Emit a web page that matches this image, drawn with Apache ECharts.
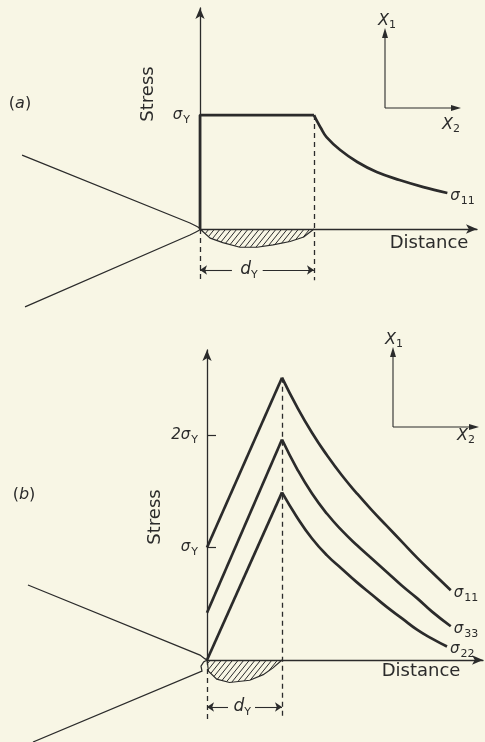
<!DOCTYPE html>
<html>
<head>
<meta charset="utf-8">
<script src="https://cdn.jsdelivr.net/npm/echarts@6/dist/echarts.min.js"></script>
<style>
  html, body { margin: 0; padding: 0; background: #f8f6e5; }
  #chart { width: 485px; height: 742px; }
</style>
</head>
<body>
<div id="chart"></div>
<script>
// Distances are in units of d_Y (plastic zone size), stresses in units of sigma_Y.

// ---- Panel (a): stress ahead of the crack tip ----
const sigma11A_plateau = [[0, 0], [0, 1], [1, 1]];
const sigma11A_decay = [[1, 1], [1.03, 0.94], [1.06, 0.886], [1.11, 0.807], [1.23, 0.693],
                        [1.38, 0.588], [1.55, 0.50], [1.75, 0.43], [1.96, 0.368], [2.17, 0.316]];
const plasticZoneA = [[0, 0], [0.09, -0.08], [0.2, -0.12], [0.35, -0.16], [0.5, -0.16],
                      [0.64, -0.14], [0.79, -0.11], [0.91, -0.07], [1, 0]];
const crackA = [[-1.561, 0.649], [-0.088, 0.053], [-0.035, 0.026], [-0.008, 0.012], [0, 0],
                [-0.008, -0.012], [-0.035, -0.026], [-0.088, -0.053], [-1.535, -0.684]];
const stressTicksA = [1];
const stressTickLabelsA = ['σ_Y'];

// ---- Panel (b): three stress components ahead of the crack tip ----
const riseX = [0, 1];
const decayX = [1, 1.2, 1.4, 1.6, 1.8, 2.0, 2.2, 2.4, 2.6, 2.8, 3.0, 3.25];
const decayX22 = [1, 1.2, 1.4, 1.6, 1.8, 2.0, 2.2, 2.4, 2.6, 2.8, 3.0, 3.2];
const sigma11B_rise = [1.0, 2.51];
const sigma11B_decay = [2.51, 2.25, 2.02, 1.82, 1.64, 1.48, 1.33, 1.19, 1.05, 0.91, 0.78, 0.62];
const sigma33B_rise = [0.42, 1.96];
const sigma33B_decay = [1.96, 1.70, 1.48, 1.30, 1.15, 1.02, 0.90, 0.78, 0.66, 0.55, 0.43, 0.30];
const sigma22B_rise = [0, 1.49];
const sigma22B_decay = [1.49, 1.27, 1.08, 0.93, 0.81, 0.69, 0.58, 0.47, 0.37, 0.27, 0.19, 0.12];
const plasticZoneB = [[0, 0], [0.02, -0.1], [0.13, -0.17], [0.3, -0.2], [0.57, -0.18],
                      [0.75, -0.13], [0.88, -0.07], [1, 0]];
const crackB = [[-2.387, 0.667], [-0.093, 0.044], [-0.03, 0.012], [0, 0], [-0.045, -0.018],
                [-0.08, -0.055], [-0.067, -0.098], [-2.32, -0.729]];
const stressTicksB = [1, 2];
const stressTickLabelsB = ['σ_Y', '2σ_Y'];

const ink = '#2b2b2b';
const font = 'DejaVu Sans';
const zip = (xs, ys) => xs.map((x, i) => [x, ys[i]]);

const subRich = {
  g: { fontSize: 15, fontFamily: font, color: ink, fontStyle: 'italic' },
  s: { fontSize: 11, fontFamily: font, color: ink, padding: [10, 0, 0, 1] }
};
const toRich = s => { const [a, b] = s.split('_'); return '{g|' + a + '}{s|' + b + '}'; };

function axisLineStyle() {
  return { show: true, onZero: false, symbol: ['none', 'arrow'], symbolSize: [7, 11],
           lineStyle: { color: ink, width: 1.3 } };
}

function curve(data, xi, opts) {
  return Object.assign({
    type: 'line', xAxisIndex: xi, yAxisIndex: xi, data, clip: false, showSymbol: false,
    symbol: 'none', silent: true, lineStyle: { color: ink, width: 2.7 }
  }, opts || {});
}

function crack(points, xi) {
  return {
    type: 'lines', coordinateSystem: 'cartesian2d', xAxisIndex: xi, yAxisIndex: xi, clip: false,
    polyline: true, silent: true, symbol: 'none',
    lineStyle: { color: ink, width: 1.25, opacity: 1, curveness: 0 },
    data: [{ coords: points }]
  };
}

function endTag(text) {
  return { show: true, formatter: toRich(text), rich: subRich, distance: 3, offset: [0, 3] };
}

function hatch(profile, xi) {
  return {
    type: 'custom', xAxisIndex: xi, yAxisIndex: xi, clip: false, silent: true,
    data: [[0, 0]],
    renderItem(params, api) {
      const pts = profile.map(p => api.coord(p));
      const y0 = api.coord([0, 0])[1];
      const t = 1.25, gap = 5.6;
      const f = p => p[0] * t + p[1];
      const children = [{ type: 'polyline', shape: { points: pts },
                          style: { stroke: ink, fill: null, lineWidth: 1.2 } }];
      const cStart = f(pts[0]), cEnd = f(pts[pts.length - 1]);
      for (let c = cStart + gap * t * 0.6; c < cEnd - 1; c += gap * t) {
        for (let i = 0; i < pts.length - 1; i++) {
          const a = f(pts[i]), b = f(pts[i + 1]);
          if (c >= a && c <= b) {
            const u = (c - a) / (b - a);
            const bx = pts[i][0] + u * (pts[i + 1][0] - pts[i][0]);
            const by = pts[i][1] + u * (pts[i + 1][1] - pts[i][1]);
            children.push({ type: 'line', shape: { x1: bx, y1: by, x2: (c - y0) / t, y2: y0 },
                            style: { stroke: ink, lineWidth: 1 } });
            break;
          }
        }
      }
      return { type: 'group', children };
    }
  };
}

function dashed(segments, xi) {
  return {
    type: 'lines', coordinateSystem: 'cartesian2d', xAxisIndex: xi, yAxisIndex: xi, clip: false,
    silent: true, symbol: 'none', lineStyle: { color: ink, width: 1.3, type: [5, 4], opacity: 1 },
    data: segments.map(s => ({ coords: s }))
  };
}

function dimension(y, leftEnd, rightStart, labelX, xi) {
  return [{
    type: 'lines', coordinateSystem: 'cartesian2d', xAxisIndex: xi, yAxisIndex: xi, clip: false,
    silent: true, symbol: ['none', 'arrow'], symbolSize: 7,
    lineStyle: { color: ink, width: 1.1, opacity: 1 },
    data: [{ coords: [[leftEnd, y], [0, y]] }, { coords: [[rightStart, y], [1, y]] }]
  }, {
    // the d_Y caption between the two arrows
    type: 'custom', xAxisIndex: xi, yAxisIndex: xi, clip: false, silent: true,
    data: [[labelX, y]],
    renderItem(params, api) {
      const p = api.coord([api.value(0), api.value(1)]);
      return { type: 'text', x: p[0], y: p[1], style: {
        text: '{g|d}{s|Y}', align: 'center', verticalAlign: 'middle',
        rich: { g: { fontSize: 17, fontFamily: font, fill: ink, fontStyle: 'italic' },
                s: { fontSize: 11, fontFamily: font, fill: ink, padding: [10, 0, 0, 0] } } } };
    }
  }];
}

function frame(ox, oy, top, right, x1Left, x1Y, x2Left, x2Y) {
  const ln = { stroke: ink, lineWidth: 1.1 };
  const lab = sub => ({ text: '{g|X}{s|' + sub + '}', verticalAlign: 'middle',
    rich: { g: { fontSize: 16, fontFamily: font, fill: ink, fontStyle: 'italic' },
            s: { fontSize: 11, fontFamily: font, fill: ink, padding: [8, 0, 0, 0] } } });
  return [
    { type: 'line', shape: { x1: ox, y1: oy, x2: ox, y2: top + 6 }, style: ln },
    { type: 'polygon', shape: { points: [[ox, top], [ox - 3, top + 10], [ox + 3, top + 10]] }, style: { fill: ink } },
    { type: 'line', shape: { x1: ox, y1: oy, x2: right - 6, y2: oy }, style: ln },
    { type: 'polygon', shape: { points: [[right, oy], [right - 10, oy - 3], [right - 10, oy + 3]] }, style: { fill: ink } },
    { type: 'text', x: x1Left, y: x1Y, style: lab('1') },
    { type: 'text', x: x2Left, y: x2Y, style: lab('2') }
  ];
}

function plainText(text, x, y, rotation) {
  return { type: 'text', x, y, rotation: rotation || 0,
    style: { text, fill: ink, font: '18px "' + font + '"', align: 'center', verticalAlign: 'middle' } };
}

function panelTag(letter, x, y) {
  return { type: 'text', x, y, style: { text: '({i|' + letter + '})', fill: ink,
    font: '16px "' + font + '"', align: 'center', verticalAlign: 'middle',
    rich: { i: { fontStyle: 'italic', fontSize: 16, fontFamily: font, fill: ink } } } };
}

const chart = echarts.init(document.getElementById('chart'), null, { renderer: 'canvas' });
chart.setOption({
  animation: false,
  backgroundColor: '#f8f6e5',
  textStyle: { fontFamily: font, color: ink },
  grid: [
    { left: 200, top: 8, width: 277, height: 221 },
    { left: 207, top: 350, width: 276, height: 310 }
  ],
  xAxis: [
    { gridIndex: 0, type: 'value', min: 0, max: 2.43, axisLine: axisLineStyle(),
      axisTick: { show: false }, axisLabel: { show: false }, splitLine: { show: false } },
    { gridIndex: 1, type: 'value', min: 0, max: 3.68, axisLine: axisLineStyle(),
      axisTick: { show: false }, axisLabel: { show: false }, splitLine: { show: false } }
  ],
  yAxis: [
    { gridIndex: 0, type: 'value', min: 0, max: 1.94, interval: 1, axisLine: axisLineStyle(),
      axisTick: { show: false }, splitLine: { show: false },
      axisLabel: { customValues: stressTicksA, margin: 10, rich: subRich,
                   formatter: v => toRich(stressTickLabelsA[stressTicksA.indexOf(v)]) } },
    { gridIndex: 1, type: 'value', min: 0, max: 2.756, interval: 1, axisLine: axisLineStyle(),
      axisTick: { show: true, inside: true, length: 9, customValues: stressTicksB,
                  lineStyle: { color: ink, width: 1.2 } },
      splitLine: { show: false },
      axisLabel: { customValues: stressTicksB, margin: 9, rich: subRich,
                   formatter: v => toRich(stressTickLabelsB[stressTicksB.indexOf(v)]) } }
  ],
  series: [
    // panel (a)
    crack(crackA, 0),
    hatch(plasticZoneA, 0),
    dashed([[[0, 0], [0, -0.45]], [[1, 1], [1, -0.45]]], 0),
    ...dimension(-0.36, 0.28, 0.55, 0.43, 0),
    curve(sigma11A_plateau, 0),
    curve(sigma11A_decay, 0, { smooth: 0.4, endLabel: endTag('σ_11') }),
    // panel (b)
    crack(crackB, 1),
    hatch(plasticZoneB, 1),
    dashed([[[0, 0], [0, -0.53]], [[1, sigma11B_rise[1]], [1, -0.53]]], 1),
    ...dimension(-0.418, 0.28, 0.64, 0.47, 1),
    curve(zip(riseX, sigma11B_rise), 1),
    curve(zip(decayX, sigma11B_decay), 1, { smooth: 0.5, endLabel: endTag('σ_11') }),
    curve(zip(riseX, sigma33B_rise), 1),
    curve(zip(decayX, sigma33B_decay), 1, { smooth: 0.5, endLabel: endTag('σ_33') }),
    curve(zip(riseX, sigma22B_rise), 1),
    curve(zip(decayX22, sigma22B_decay), 1, { smooth: 0.5, endLabel: endTag('σ_22') })
  ],
  graphic: [
    plainText('Stress', 148, 94, Math.PI / 2),
    plainText('Stress', 155, 517, Math.PI / 2),
    plainText('Distance', 429, 243),
    plainText('Distance', 421, 671),
    panelTag('a', 20, 104),
    panelTag('b', 24, 495),
    ...frame(385, 108, 28, 461, 378, 21, 442, 125),
    ...frame(393, 427, 347, 479, 385, 340, 457, 436)
  ]
});
</script>
</body>
</html>
